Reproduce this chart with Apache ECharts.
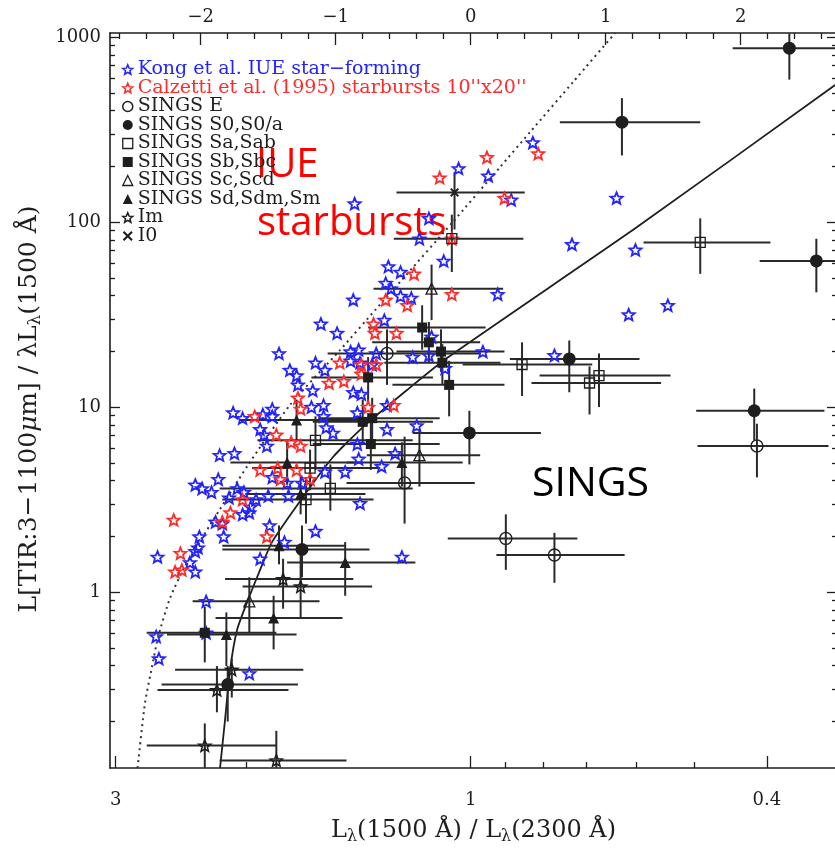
<!DOCTYPE html>
<html><head><meta charset="utf-8">
<script src="https://cdn.jsdelivr.net/npm/echarts@6/dist/echarts.min.js"></script>
<style>html,body{margin:0;padding:0;background:#fff}#c{width:835px;height:853px}</style>
</head><body><div id="c"></div>
<script>
// ---------------- data (x = UV slope beta on the top axis, y given as log10 of L(TIR)/λL(1500Å)) ----------------
const betaTicks = [-2, -1, 0, 1, 2];
const betaMinorTicks = [-2.6,-2.4,-2.2,-1.8,-1.6,-1.4,-1.2,-0.8,-0.6,-0.4,-0.2,0.2,0.4,0.6,0.8,1.2,1.4,1.6,1.8,2.2,2.4,2.6];
const ratioTicks = [3, 1, 0.4];
const ratioMinorTicks = [2, 0.9, 0.8, 0.7, 0.6, 0.5];
const irxTicks = [1, 10, 100, 1000];
const irxMinorTicks = [0.2,0.3,0.4,0.5,0.6,0.7,0.8,0.9,2,3,4,5,6,7,8,9,20,30,40,50,60,70,80,90,200,300,400,500,600,700,800,900];

const legendNames = ['Kong et al. IUE star\u2212forming', "Calzetti et al. (1995) starbursts 10''x20''",
  'SINGS E', 'SINGS S0,S0/a', 'SINGS Sa,Sab', 'SINGS Sb,Sbc', 'SINGS Sc,Scd', 'SINGS Sd,Sdm,Sm', 'Im', 'I0'];

// [beta, log10 IRX]
const kongIUE = [
[0.46,2.43],[-0.09,2.29],[0.13,2.25],[0.30,2.12],[1.08,2.13],[-0.86,2.10],[-0.31,2.02],[-0.38,1.91],[0.75,1.88],[1.22,1.85],
[-0.20,1.79],[-0.61,1.76],[-0.52,1.73],[-0.63,1.67],[-0.59,1.64],[0.20,1.61],[-0.52,1.60],[-0.44,1.59],[-0.87,1.58],[1.17,1.50],
[1.46,1.55],[-0.64,1.47],[-1.11,1.45],[-0.99,1.40],[0.09,1.30],[0.62,1.28],[-0.19,1.21],[-1.42,1.29],[-0.83,1.31],[-0.89,1.30],
[-0.70,1.29],[-0.89,1.25],[-0.82,1.24],[-1.15,1.24],[-0.73,1.23],[-1.08,1.20],[-1.34,1.20],[-1.29,1.17],[-1.28,1.12],[-1.17,1.09],
[-0.87,1.08],[-0.81,1.07],[-0.43,1.27],[-0.31,1.28],[-0.29,1.38],[-0.62,1.01],[-1.09,1.01],[-1.47,0.99],[-1.18,1.00],[-1.76,0.97],
[-1.69,0.94],[-1.54,0.96],[-1.47,0.95],[-1.09,0.95],[-1.07,0.89],[-1.02,0.86],[-1.56,0.88],[-1.53,0.85],[-0.84,0.97],[-0.62,0.88],
[-0.40,0.90],[-1.51,0.79],[-1.86,0.74],[-1.75,0.75],[-0.84,0.80],[-0.83,0.72],[-0.56,0.75],[-0.66,0.68],[-0.93,0.65],[-1.08,0.65],
[-1.47,0.62],[-1.36,0.59],[-2.04,0.58],[-1.99,0.56],[-1.92,0.54],[-1.87,0.61],[-1.73,0.56],[-1.68,0.54],[-1.79,0.51],[-1.59,0.50],
[-1.50,0.52],[-1.35,0.52],[-1.25,0.59],[-1.63,0.46],[-1.69,0.42],[-1.64,0.43],[-1.89,0.38],[-1.84,0.37],[-1.83,0.30],[-2.01,0.30],
[-2.02,0.24],[-2.04,0.22],[-1.15,0.33],[-1.38,0.27],[-1.49,0.36],[-1.56,0.18],[-0.51,0.19],[-0.82,0.48],[-2.08,0.16],[-2.32,0.19],
[-2.04,0.11],[-1.96,-0.05],[-2.33,-0.24],[-1.96,-0.22],[-2.31,-0.36],[-1.64,-0.44]
];
const calzetti95 = [
[0.50,2.37],[0.12,2.35],[-0.23,2.24],[0.25,2.13],[-0.42,1.72],[-0.63,1.58],[-0.47,1.55],[-0.14,1.61],[-0.72,1.45],[-0.71,1.40],
[-0.55,1.40],[-0.97,1.24],[-0.81,1.23],[-0.81,1.18],[-0.94,1.14],[-1.05,1.13],[-0.70,1.23],[-1.28,1.05],[-1.26,0.99],[-0.76,1.00],
[-0.57,1.01],[-1.60,0.95],[-1.44,0.85],[-1.33,0.81],[-1.26,0.79],[-1.56,0.66],[-1.43,0.67],[-1.29,0.66],[-1.19,0.61],[-1.41,0.61],
[-1.69,0.50],[-1.78,0.43],[-1.84,0.38],[-1.51,0.30],[-2.20,0.39],[-2.15,0.21],[-2.19,0.11],[-2.14,0.12],[-0.14,1.91]
];

// SINGS: [beta, log10 IRX, beta low, beta high, log10 IRX low, log10 IRX high]
const singsE = [
[-0.62,1.29,-1.06,0.07,1.12,1.42],[-0.49,0.59,-0.92,0.03,0.37,0.84],[0.26,0.29,-0.17,0.79,0.12,0.42],
[0.62,0.20,0.19,1.14,0.05,0.32],[2.12,0.79,1.68,2.65,0.62,0.91]
];
const singsS0 = [
[2.36,2.94,1.94,2.74,2.77,3.02],[1.12,2.54,0.66,1.70,2.36,2.67],[2.56,1.79,2.14,2.74,1.62,1.91],
[0.73,1.26,0.29,1.25,1.08,1.36],[-0.01,0.86,-0.43,0.52,0.69,0.98],[2.10,0.98,1.67,2.62,0.82,1.10],
[-1.25,0.23,-1.84,-0.75,0.08,0.36],[-1.80,-0.50,-2.29,-1.28,-0.70,-0.40]
];
const singsSa = [
[1.70,1.89,1.28,2.22,1.72,2.02],[-0.14,1.91,-0.57,0.39,1.73,2.04],[0.38,1.23,-0.06,0.90,1.06,1.35],
[0.88,1.13,0.45,1.41,0.96,1.22],[0.95,1.17,0.51,1.48,1.00,1.29],[-1.15,0.82,-1.58,-0.43,0.66,0.95],
[-1.19,0.67,-1.62,-0.67,0.55,0.77],[-1.04,0.56,-1.86,-0.43,0.44,0.69],[-1.22,0.50,-1.84,-0.72,0.37,0.62]
];
const singsSb = [
[-0.36,1.43,-0.76,0.11,1.31,1.55],[-0.31,1.35,-0.73,0.07,1.24,1.46],[-0.22,1.30,-0.55,0.25,1.19,1.42],
[-0.16,1.12,-0.58,0.25,0.95,1.25],[-0.76,1.16,-1.18,-0.28,1.02,1.27],[-0.80,0.92,-1.17,-0.28,0.80,1.04],
[-0.73,0.94,-1.13,-0.23,0.82,1.05],[-0.74,0.80,-1.17,-0.23,0.66,0.92],[-1.97,-0.22,-2.40,-1.44,-0.38,-0.08],
[-0.21,1.24,-0.64,0.22,1.12,1.34]
];
const singsSc = [
[-0.29,1.64,-0.72,0.24,1.47,1.77],[-0.38,0.74,-0.77,0.07,0.57,0.88],[-1.64,-0.05,-2.06,-1.12,-0.22,0.08]
];
const singsSd = [
[-1.29,0.93,-1.71,-0.82,0.82,1.04],[-0.51,0.70,-0.92,-0.06,0.57,0.81],[-1.36,0.70,-1.78,-0.80,0.58,0.82],
[-1.26,0.53,-1.67,-0.78,0.42,0.63],[-1.42,0.25,-1.84,-0.93,0.15,0.36],[-0.93,0.16,-1.36,-0.41,-0.02,0.27],
[-1.46,-0.14,-1.89,-0.95,-0.31,-0.02],[-1.81,-0.23,-2.25,-1.29,-0.40,-0.11]
];
const singsIm = [
[-1.39,0.07,-1.82,-0.87,-0.09,0.18],[-1.26,0.03,-1.69,-0.73,-0.14,0.21],[-1.77,-0.42,-2.19,-1.24,-0.57,-0.36],
[-1.88,-0.53,-2.32,-1.35,-0.65,-0.40],[-1.97,-0.83,-2.40,-1.44,-0.95,-0.71],[-1.44,-0.91,-1.86,-0.92,-0.95,-0.75]
];
const singsI0 = [[-0.12,2.16,-0.55,0.40,1.96,2.27]];

// curves: [beta, log10 IRX]
const iueCurve = [
[-2.468,-0.951],[-2.413,-0.600],[-2.361,-0.405],[-2.316,-0.243],[-2.227,-0.032],[-2.116,0.141],[-1.931,0.362],
[-1.650,0.686],[-1.339,1.011],[-0.968,1.308],[-0.701,1.530],[-0.524,1.676],[-0.139,1.995],[0.217,2.297],
[0.439,2.486],[0.758,2.757],[1.069,3.022]
];
const singsCurve = [
[-1.857,-0.951],[-1.820,-0.692],[-1.783,-0.422],[-1.731,-0.205],[-1.650,-0.043],[-1.546,0.146],[-1.472,0.270],
[-1.242,0.514],[-1.020,0.730],[-0.798,0.892],[-0.472,1.092],[-0.176,1.265],[1.232,1.973],[2.699,2.741]
];

// ---------------- chart ----------------
const serif = 'DejaVu Serif';
const BMIN = -2.672, BMAX = 2.713;          // beta range of the frame
const RMIN = -0.4923, RMAX = 0.4848;        // log10 ratio range of the frame (inverse)
const YMIN = Math.pow(10, -0.951), YMAX = Math.pow(10, 3.022);
const STAR = 'path://M50,0L62.93,32.2L97.55,34.55L70.92,56.8L79.39,90.45L50,72L20.61,90.45L29.08,56.8L2.45,34.55L37.07,32.2Z';
const CROSS = 'path://M0,1.5L1.5,0L5,3.5L8.5,0L10,1.5L6.5,5L10,8.5L8.5,10L5,6.5L1.5,10L0,8.5L3.5,5Z';
const BLUE = '#2323ff', RED = '#ff2a2a', INK = '#1e1e1e';

const P = d => [d[0], Math.pow(10, d[1])];
const E = d => [d[0], Math.pow(10, d[1]), d[2], d[3], Math.pow(10, d[4]), Math.pow(10, d[5])];
const lg = v => Math.log10(v);

const frame = {show: true, onZero: false, lineStyle: {color: INK, width: 1.6}};
const noLine = {show: false, onZero: false};
const tickStyle = {color: INK, width: 1.3};
const fmtBeta = v => (v < 0 ? '\u2212' + Math.abs(v) : String(v));
const fmtRatio = v => String(Math.round(Math.pow(10, v) * 10) / 10);

function renderErr(params, api) {
  const l = api.coord([api.value(2), api.value(1)]);
  const r = api.coord([api.value(3), api.value(1)]);
  const b = api.coord([api.value(0), api.value(4)]);
  const t = api.coord([api.value(0), api.value(5)]);
  const style = {stroke: '#2a2a2a', lineWidth: 2};
  return {type: 'group', children: [
    {type: 'line', shape: {x1: l[0], y1: l[1], x2: r[0], y2: r[1]}, style: style},
    {type: 'line', shape: {x1: b[0], y1: b[1], x2: t[0], y2: t[1]}, style: style}
  ]};
}

const allSings = [].concat(singsE, singsS0, singsSa, singsSb, singsSc, singsSd, singsIm, singsI0);

function sc(name, data, symbol, size, fill, stroke, bw, z) {
  return {type: 'scatter', name: name, data: data.map(P), xAxisIndex: 0, yAxisIndex: 0,
    symbol: symbol, symbolSize: size, symbolKeepAspect: true, z: z, silent: true,
    itemStyle: {color: fill, borderColor: stroke, borderWidth: bw, opacity: 1}};
}
const NONE = 'rgba(0,0,0,0)';

const legendItem = (name, icon, fill, stroke, bw, color) => ({name: name, icon: icon,
  itemStyle: {color: fill, borderColor: stroke, borderWidth: bw}, textStyle: {color: color}});

const option = {
  animation: false,
  backgroundColor: '#fff',
  grid: {left: 110, top: 33, right: -2, bottom: 85, containLabel: false, outerBoundsMode: 'none'},
  legend: {
    orient: 'vertical', left: 122, top: 60, padding: 0, itemGap: -0.5, itemWidth: 10, itemHeight: 10,
    selectedMode: false,
    textStyle: {fontFamily: serif, fontSize: 19, color: INK, lineHeight: 17},
    data: [
      legendItem(legendNames[0], STAR, NONE, BLUE, 1.5, BLUE),
      legendItem(legendNames[1], STAR, NONE, RED, 1.5, RED),
      legendItem(legendNames[2], 'circle', NONE, INK, 1.5, INK),
      legendItem(legendNames[3], 'circle', INK, INK, 0, INK),
      legendItem(legendNames[4], 'rect', NONE, INK, 1.3, INK),
      legendItem(legendNames[5], 'rect', INK, INK, 0, INK),
      legendItem(legendNames[6], 'triangle', NONE, INK, 1.3, INK),
      legendItem(legendNames[7], 'triangle', INK, INK, 0, INK),
      legendItem(legendNames[8], STAR, NONE, INK, 1.5, INK),
      legendItem(legendNames[9], CROSS, INK, INK, 0, INK)
    ]
  },
  xAxis: [
    {type: 'value', position: 'top', min: BMIN, max: BMAX, axisLine: frame, splitLine: {show: false},
     axisTick: {inside: true, length: 12, customValues: betaTicks, lineStyle: tickStyle},
     axisLabel: {customValues: betaTicks, formatter: fmtBeta, fontFamily: serif, fontSize: 18, color: INK, margin: 7}},
    {type: 'value', position: 'top', min: BMIN, max: BMAX, axisLine: noLine, splitLine: {show: false},
     axisTick: {inside: true, length: 6, customValues: betaMinorTicks, lineStyle: tickStyle}, axisLabel: {show: false}},
    {type: 'value', position: 'bottom', inverse: true, min: RMIN, max: RMAX, axisLine: frame, splitLine: {show: false},
     axisTick: {inside: true, length: 12, customValues: ratioTicks.map(lg), lineStyle: tickStyle},
     axisLabel: {customValues: ratioTicks.map(lg), formatter: fmtRatio, fontFamily: serif, fontSize: 18, color: INK, margin: 23},
     name: '{n|L}{s|\u03bb}{n|(1500 \u00c5) / L}{s|\u03bb}{n|(2300 \u00c5)}', nameLocation: 'middle', nameGap: 49,
     nameTextStyle: {rich: {n: {fontFamily: serif, fontSize: 24, color: INK}, s: {fontFamily: serif, fontSize: 16, color: INK, padding: [12, 0, 0, 0]}}}},
    {type: 'value', position: 'bottom', inverse: true, min: RMIN, max: RMAX, axisLine: noLine, splitLine: {show: false},
     axisTick: {inside: true, length: 6, customValues: ratioMinorTicks.map(lg), lineStyle: tickStyle}, axisLabel: {show: false}}
  ],
  yAxis: [
    {type: 'log', position: 'left', min: YMIN, max: YMAX, axisLine: frame, splitLine: {show: false}, minorTick: {show: false},
     axisTick: {inside: true, length: 10, customValues: irxTicks, lineStyle: tickStyle},
     axisLabel: {customValues: irxTicks, formatter: v => String(Math.round(v)), fontFamily: serif, fontSize: 18, color: INK, margin: 9},
     name: '{n|L[TIR:3\u22121100}{i|\u03bc}{n|m] / \u03bbL}{s|\u03bb}{n|(1500 \u00c5)}', nameLocation: 'middle', nameGap: 61, nameRotate: 90,
     nameTextStyle: {padding: [0, 17, 0, 0], rich: {n: {fontFamily: serif, fontSize: 25, color: INK}, i: {fontFamily: serif, fontStyle: 'italic', fontSize: 25, color: INK},
       s: {fontFamily: serif, fontSize: 17, color: INK, padding: [12, 0, 0, 0]}}}},
    {type: 'log', position: 'left', min: YMIN, max: YMAX, axisLine: noLine, splitLine: {show: false},
     axisTick: {inside: true, length: 5, customValues: irxMinorTicks, lineStyle: tickStyle}, axisLabel: {show: false}},
    {type: 'log', position: 'right', min: YMIN, max: YMAX, axisLine: frame, splitLine: {show: false},
     axisTick: {inside: true, length: 10, customValues: irxTicks, lineStyle: tickStyle}, axisLabel: {show: false}},
    {type: 'log', position: 'right', min: YMIN, max: YMAX, axisLine: noLine, splitLine: {show: false},
     axisTick: {inside: true, length: 5, customValues: irxMinorTicks, lineStyle: tickStyle}, axisLabel: {show: false}}
  ],
  graphic: [
    {type: 'text', x: 256, y: 166, silent: true, style: {text: 'IUE', fontFamily: 'Open Sans', fontSize: 40, fill: '#ff0000', verticalAlign: 'middle'}},
    {type: 'text', x: 257, y: 224, silent: true, style: {text: 'starbursts', fontFamily: 'Open Sans', fontSize: 40, fill: '#ff0000', verticalAlign: 'middle'}},
    {type: 'text', x: 532, y: 484, silent: true, style: {text: 'SINGS', fontFamily: 'Open Sans', fontSize: 41, fill: '#000000', verticalAlign: 'middle'}}
  ],
  series: [
    {type: 'line', name: 'IUE relation', data: iueCurve.map(P), xAxisIndex: 0, yAxisIndex: 0, symbol: 'none', smooth: 0.2, silent: true, z: 1,
     lineStyle: {type: [2, 4], width: 2, color: '#333'}},
    {type: 'line', name: 'SINGS fit', data: singsCurve.map(P), xAxisIndex: 0, yAxisIndex: 0, symbol: 'none', smooth: 0.2, silent: true, z: 1,
     lineStyle: {width: 1.8, color: INK}},
    {type: 'custom', name: 'error bars', data: allSings.map(E), xAxisIndex: 0, yAxisIndex: 0, renderItem: renderErr, silent: true, z: 2,
     encode: {x: [0, 2, 3], y: [1, 4, 5]}},
    sc(legendNames[0], kongIUE, STAR, 12, NONE, BLUE, 1.8, 3),
    sc(legendNames[1], calzetti95, STAR, 12, NONE, RED, 1.8, 3),
    sc(legendNames[2], singsE, 'circle', 12, NONE, INK, 1.4, 4),
    sc(legendNames[3], singsS0, 'circle', 13, INK, INK, 0, 4),
    sc(legendNames[4], singsSa, 'rect', 10, NONE, INK, 1.3, 4),
    sc(legendNames[5], singsSb, 'rect', 10, INK, INK, 0, 4),
    sc(legendNames[6], singsSc, 'triangle', 11, NONE, INK, 1.3, 4),
    sc(legendNames[7], singsSd, 'triangle', 11, INK, INK, 0, 4),
    sc(legendNames[8], singsIm, STAR, 12, NONE, INK, 1.6, 4),
    sc(legendNames[9], singsI0, CROSS, 9, INK, INK, 0, 4)
  ]
};
const chart = echarts.init(document.getElementById('c'));
chart.setOption(option);
</script>
</body></html>
